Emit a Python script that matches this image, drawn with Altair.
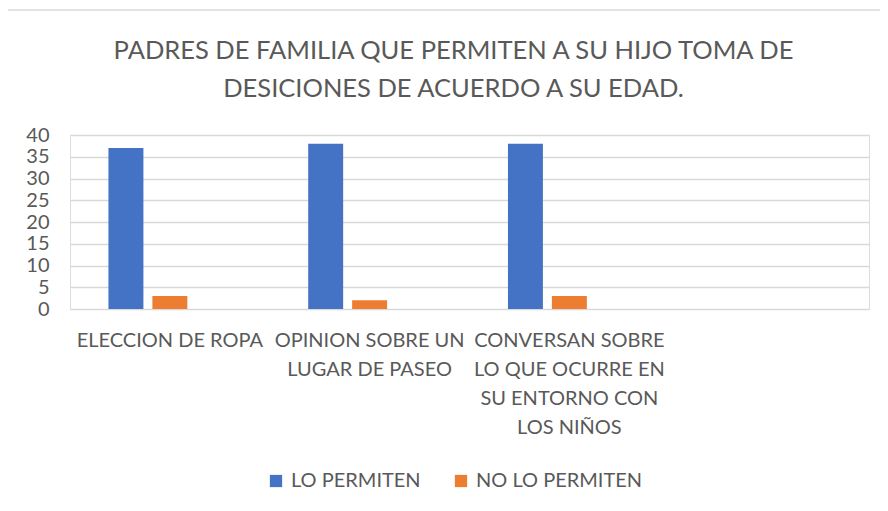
import altair as alt
import pandas as pd

categories = [
    "ELECCION DE ROPA",
    "OPINION SOBRE UN|LUGAR DE PASEO",
    "CONVERSAN SOBRE|LO QUE OCURRE EN|SU ENTORNO CON|LOS NIÑOS",
    " ",
]
series = ["LO PERMITEN", "NO LO PERMITEN"]
lo_permiten = [37, 38, 38]
no_lo_permiten = [3, 2, 3]
title_lines = [
    "PADRES DE FAMILIA QUE PERMITEN A SU HIJO TOMA DE",
    "DESICIONES DE ACUERDO A SU EDAD.",
]
y_ticks = [0, 5, 10, 15, 20, 25, 30, 35, 40]

rows = []
for i, c in enumerate(categories[:3]):
    rows.append({"cat": c, "serie": series[0], "valor": lo_permiten[i]})
    rows.append({"cat": c, "serie": series[1], "valor": no_lo_permiten[i]})
df = pd.DataFrame(rows)

FONT = "Lato"
GRAY = "#595959"

bars = alt.Chart(df).mark_bar().encode(
    x=alt.X(
        "cat:N",
        scale=alt.Scale(domain=categories, paddingInner=0, paddingOuter=0),
        axis=alt.Axis(
            title=None,
            labelAngle=0,
            domain=False,
            ticks=False,
            labelExpr="split(datum.label, '|')",
            labelLineHeight=29,
            labelFontSize=20,
            labelColor=GRAY,
            labelFont=FONT,
            labelLimit=400,
            labelPadding=21,
        ),
    ),
    xOffset=alt.XOffset(
        "serie:N",
        scale=alt.Scale(domain=series + ["_"], paddingInner=0.2045, paddingOuter=0.875),
    ),
    y=alt.Y(
        "valor:Q",
        scale=alt.Scale(domain=[0, 40], nice=False),
        axis=alt.Axis(
            title=None,
            values=y_ticks,
            domain=False,
            ticks=False,
            labelFontSize=20,
            labelColor=GRAY,
            labelFont=FONT,
            labelPadding=21,
            gridColor="#d9d9d9",
            gridWidth=1.3,
        ),
    ),
    color=alt.Color(
        "serie:N",
        scale=alt.Scale(domain=series, range=["#4472c4", "#ed7d31"]),
        legend=alt.Legend(
            title=None,
            orient="none",
            direction="horizontal",
            legendX=196,
            legendY=336,
            symbolType="square",
            symbolSize=150,
            symbolStrokeWidth=0,
            labelFontSize=20,
            labelFont=FONT,
            labelColor=GRAY,
            labelOffset=5,
            labelLimit=400,
            columnPadding=30,
        ),
    ),
)

frame = alt.Chart(pd.DataFrame({"a": [0]})).mark_rect(
    fill=None, stroke="#d9d9d9", strokeWidth=1.5
).encode(
    x=alt.value(-63), x2=alt.value(900), y=alt.value(-125), y2=alt.value(600)
)

chart = alt.layer(frame, bars).properties(
    width=799,
    height=174,
    autosize=alt.AutoSizeParams(type="none"),
    padding={"left": 62, "top": 127, "right": 11, "bottom": 190},
    title=alt.Title(
        text=title_lines,
        fontSize=25.5,
        font=FONT,
        fontWeight="normal",
        color=GRAY,
        lineHeight=38,
        anchor="middle",
        frame="group",
        dx=-16,
        offset=-93,
    ),
).configure_view(stroke=None).configure(background="white")

chart.save("out.html", embed_options={"renderer": "svg", "actions": False})
